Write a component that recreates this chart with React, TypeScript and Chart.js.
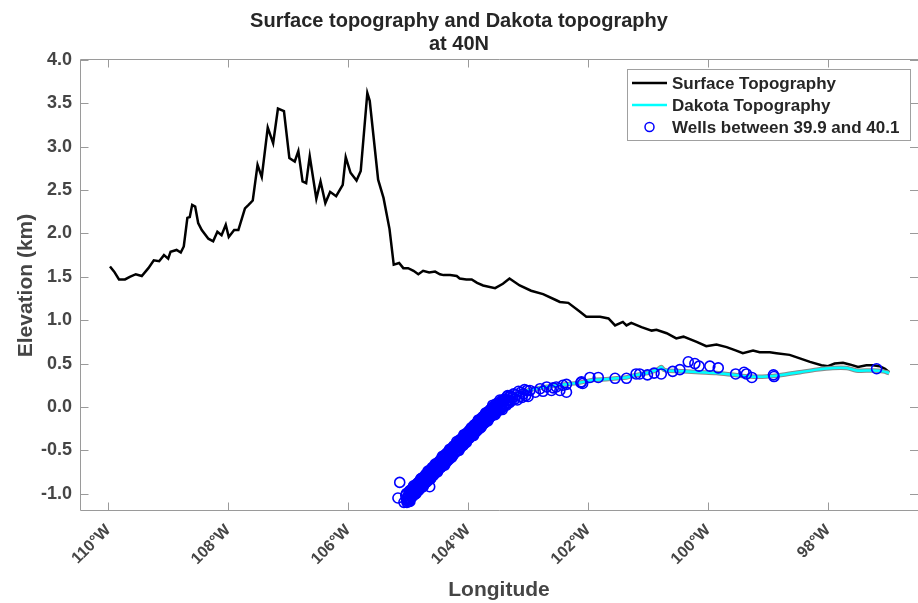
import React, { useEffect, useRef } from 'react';
import { Chart, registerables } from 'chart.js';

Chart.register(...registerables);

const FONT = "'Liberation Sans', Arial, Helvetica, sans-serif";

const chartTitle = ['Surface topography and Dakota topography', 'at 40N'];
const xAxisTitle = 'Longitude';
const yAxisTitle = 'Elevation (km)';

const xTickValues = [-110, -108, -106, -104, -102, -100, -98];
const yTickValues = [-1.0, -0.5, 0.0, 0.5, 1.0, 1.5, 2.0, 2.5, 3.0, 3.5, 4.0];
const xMin = -110.47;
const xMax = -96.5;
const yMin = -1.2;
const yMax = 4.0;

const surfaceLabel = 'Surface Topography';
const surfaceLon = [
  -109.97, -109.9, -109.82, -109.72, -109.64, -109.54, -109.44, -109.33, -109.24, -109.15,
  -109.07, -109.0, -108.96, -108.86, -108.79, -108.74, -108.68, -108.64, -108.6, -108.55,
  -108.5, -108.44, -108.33, -108.25, -108.18, -108.11, -108.04, -107.99, -107.9, -107.83,
  -107.72, -107.66, -107.59, -107.51, -107.44, -107.34, -107.25, -107.17, -107.07, -106.98,
  -106.89, -106.83, -106.76, -106.7, -106.64, -106.53, -106.46, -106.38, -106.3, -106.2,
  -106.09, -106.04, -105.96, -105.86, -105.79, -105.68, -105.64, -105.5, -105.41, -105.31,
  -105.24, -105.15, -105.08, -105.0, -104.91, -104.83, -104.75, -104.65, -104.55, -104.47,
  -104.41, -104.3, -104.19, -104.14, -104.03, -103.94, -103.85, -103.75, -103.55, -103.42,
  -103.31, -103.14, -102.95, -102.75, -102.53, -102.47, -102.33, -102.14, -102.03, -101.8,
  -101.66, -101.55, -101.42, -101.36, -101.28, -101.11, -100.94, -100.86, -100.69, -100.53,
  -100.41, -100.19, -100.03, -99.86, -99.69, -99.53, -99.42, -99.25, -99.14, -98.97,
  -98.86, -98.64, -98.47, -98.3, -98.11, -98.0, -97.89, -97.75, -97.64, -97.5,
  -97.36, -97.25, -97.14, -97.05, -96.98,
];
const surfaceElev = [
  1.62, 1.56, 1.47, 1.47, 1.5, 1.53, 1.51, 1.6, 1.69, 1.68,
  1.75, 1.71, 1.79, 1.81, 1.78, 1.85, 2.18, 2.19, 2.33, 2.31,
  2.12, 2.04, 1.94, 1.91, 2.02, 1.98, 2.1, 1.96, 2.04, 2.04,
  2.29, 2.33, 2.38, 2.79, 2.65, 3.22, 3.04, 3.44, 3.41, 2.87,
  2.83, 2.95, 2.6, 2.58, 2.89, 2.4, 2.6, 2.35, 2.48, 2.43,
  2.56, 2.88, 2.7, 2.61, 2.72, 3.62, 3.53, 2.62, 2.41, 2.05,
  1.64, 1.66, 1.6, 1.6, 1.57, 1.53, 1.57, 1.55, 1.56, 1.53,
  1.52, 1.52, 1.51, 1.48, 1.47, 1.47, 1.43, 1.4, 1.37, 1.42,
  1.48, 1.4, 1.34, 1.3, 1.23, 1.21, 1.2, 1.1, 1.04, 1.04,
  1.02, 0.94, 0.98, 0.94, 0.97, 0.92, 0.88, 0.89, 0.85, 0.79,
  0.81, 0.75, 0.7, 0.72, 0.69, 0.65, 0.62, 0.65, 0.63, 0.63,
  0.62, 0.6, 0.56, 0.52, 0.48, 0.47, 0.5, 0.51, 0.49, 0.46,
  0.48, 0.48, 0.47, 0.44, 0.4,
];

const dakotaLabel = 'Dakota Topography';
const dakotaLon = [
  -105.05, -104.8, -104.5, -104.2, -103.9, -103.6, -103.4, -103.2, -103.0, -102.8,
  -102.5, -102.14, -101.92, -101.7, -101.52, -101.36, -101.25, -101.1, -100.97, -100.85,
  -100.78, -100.74, -100.69, -100.41, -100.14, -99.86, -99.58, -99.3, -99.03, -98.75,
  -98.47, -98.19, -97.92, -97.69, -97.53, -97.25, -97.08, -96.98,
];
const dakotaElev = [
  -1.05, -0.88, -0.68, -0.47, -0.26, -0.05, 0.07, 0.14, 0.19, 0.22,
  0.25, 0.28, 0.31, 0.32, 0.33, 0.34, 0.36, 0.38, 0.4, 0.43,
  0.46, 0.43, 0.42, 0.41, 0.4, 0.39, 0.37, 0.35, 0.35, 0.37,
  0.4, 0.43, 0.45, 0.45, 0.42, 0.42, 0.41, 0.39,
];

const wellsLabel = 'Wells between 39.9 and 40.1';
const wellPoints: [number, number][] = [
  [-105.17, -1.05], [-105.14, -0.87], [-105.07, -1.1], [-105.02, -1.1], [-104.97, -1.09], [-104.64, -0.92],
  [-105.04, -1.02], [-105.02, -1.08], [-105.0, -1.02], [-104.98, -1.07], [-104.96, -0.96], [-104.94, -1.01],
  [-104.92, -0.95], [-104.9, -1.0], [-104.88, -0.95], [-104.86, -0.9], [-104.84, -0.95], [-104.82, -0.89],
  [-104.8, -0.94], [-104.78, -0.83], [-104.76, -0.89], [-104.74, -0.82], [-104.72, -0.88], [-104.7, -0.82],
  [-104.68, -0.77], [-104.66, -0.83], [-104.64, -0.76], [-104.62, -0.82], [-104.6, -0.7], [-104.58, -0.76],
  [-104.56, -0.7], [-104.54, -0.75], [-104.52, -0.7], [-104.5, -0.64], [-104.48, -0.7], [-104.46, -0.63],
  [-104.44, -0.69], [-104.42, -0.58], [-104.4, -0.63], [-104.38, -0.57], [-104.36, -0.62], [-104.34, -0.57],
  [-104.32, -0.52], [-104.3, -0.57], [-104.28, -0.51], [-104.26, -0.56], [-104.24, -0.45], [-104.22, -0.51],
  [-104.2, -0.44], [-104.18, -0.5], [-104.16, -0.44], [-104.14, -0.39], [-104.12, -0.44], [-104.1, -0.38],
  [-104.08, -0.44], [-104.06, -0.32], [-104.04, -0.38], [-104.02, -0.31], [-104.0, -0.37], [-103.98, -0.32],
  [-103.96, -0.26], [-103.94, -0.32], [-103.92, -0.25], [-103.9, -0.31], [-103.88, -0.2], [-103.86, -0.25],
  [-103.84, -0.19], [-103.82, -0.24], [-103.8, -0.19], [-103.78, -0.14], [-103.76, -0.19], [-103.74, -0.13],
  [-103.72, -0.18], [-103.7, -0.07], [-103.68, -0.12], [-103.66, -0.06], [-103.64, -0.12], [-103.62, -0.06],
  [-103.6, -0.01], [-103.58, -0.07], [-103.56, -0.01], [-103.54, -0.07], [-103.52, 0.04], [-103.5, -0.02],
  [-103.48, 0.04], [-103.46, -0.02], [-103.44, 0.03], [-103.42, 0.08], [-103.4, 0.02], [-103.38, 0.08],
  [-103.36, 0.02], [-103.34, 0.13], [-103.32, 0.07], [-103.3, 0.13], [-103.28, 0.07], [-103.26, 0.11],
  [-103.24, 0.15], [-103.22, 0.09], [-103.2, 0.14], [-103.18, 0.08], [-103.16, 0.18], [-103.14, 0.12],
  [-103.12, 0.17], [-103.1, 0.11], [-103.08, 0.15], [-103.06, 0.2], [-103.04, 0.13], [-103.02, 0.19],
  [-103.0, 0.12],
  [-105.03, -1.06], [-104.99, -1.04], [-104.95, -0.99], [-104.91, -0.98], [-104.87, -0.93], [-104.83, -0.92],
  [-104.79, -0.88], [-104.75, -0.87], [-104.71, -0.82], [-104.67, -0.81], [-104.63, -0.77], [-104.59, -0.75],
  [-104.55, -0.71], [-104.51, -0.7], [-104.47, -0.65], [-104.43, -0.64], [-104.39, -0.6], [-104.35, -0.58],
  [-104.31, -0.54], [-104.27, -0.53], [-104.23, -0.49], [-104.19, -0.47], [-104.15, -0.43], [-104.11, -0.42],
  [-104.07, -0.37], [-104.03, -0.36], [-103.99, -0.32], [-103.95, -0.3], [-103.91, -0.26], [-103.87, -0.25],
  [-103.83, -0.2], [-103.79, -0.19], [-103.75, -0.15], [-103.71, -0.13], [-103.67, -0.09], [-103.63, -0.08],
  [-103.59, -0.04], [-103.55, -0.03], [-103.51, 0.0], [-103.47, 0.01], [-103.43, 0.04],
  [-105.03, -1.0], [-105.01, -1.05], [-104.99, -1.09], [-104.97, -0.99], [-104.95, -0.97], [-104.93, -1.03],
  [-104.91, -0.91], [-104.89, -0.97], [-104.87, -1.0], [-104.85, -0.91], [-104.83, -0.88], [-104.81, -0.94],
  [-104.79, -0.83], [-104.77, -0.88], [-104.75, -0.92], [-104.73, -0.83], [-104.71, -0.8], [-104.69, -0.86],
  [-104.67, -0.74], [-104.65, -0.8], [-104.63, -0.83], [-104.61, -0.74], [-104.59, -0.71], [-104.57, -0.77],
  [-104.55, -0.66], [-104.53, -0.71], [-104.51, -0.75], [-104.49, -0.66], [-104.47, -0.63], [-104.45, -0.69],
  [-104.43, -0.57], [-104.41, -0.63], [-104.39, -0.67], [-104.37, -0.57], [-104.35, -0.54], [-104.33, -0.6],
  [-104.31, -0.49], [-104.29, -0.55], [-104.27, -0.58], [-104.25, -0.49], [-104.23, -0.46], [-104.21, -0.52],
  [-104.19, -0.4], [-104.17, -0.46], [-104.15, -0.5], [-104.13, -0.4], [-104.11, -0.37], [-104.09, -0.43],
  [-104.07, -0.32], [-104.05, -0.38], [-104.03, -0.41], [-104.01, -0.32], [-103.99, -0.29], [-103.97, -0.35],
  [-103.95, -0.24], [-103.93, -0.29], [-103.91, -0.33], [-103.89, -0.23], [-103.87, -0.2], [-103.85, -0.27],
  [-103.83, -0.15], [-103.81, -0.21], [-103.79, -0.24], [-103.77, -0.15], [-103.75, -0.12], [-103.73, -0.18],
  [-103.71, -0.07], [-103.69, -0.12], [-103.67, -0.16], [-103.65, -0.06], [-103.63, -0.04], [-103.61, -0.1],
  [-103.59, 0.02], [-103.57, -0.05], [-103.55, -0.09], [-103.53, 0.01], [-103.51, 0.03], [-103.49, -0.04],
  [-103.47, 0.08], [-103.45, 0.02], [-103.43, -0.03], [-103.41, 0.07], [-103.39, 0.09], [-103.37, 0.03],
  [-103.35, 0.12], [-103.33, 0.08], [-103.31, 0.05], [-103.29, 0.12],
  [-104.98, -0.97], [-104.95, -0.96], [-104.92, -0.93], [-104.89, -0.92], [-104.86, -0.89], [-104.83, -0.87],
  [-104.8, -0.85], [-104.77, -0.82], [-104.74, -0.81], [-104.71, -0.78], [-104.68, -0.77], [-104.65, -0.74],
  [-104.62, -0.72], [-104.59, -0.7], [-104.56, -0.68], [-104.53, -0.66], [-104.5, -0.64], [-104.47, -0.62],
  [-104.44, -0.59], [-104.41, -0.58], [-104.38, -0.55], [-104.35, -0.53], [-104.32, -0.51], [-104.29, -0.49],
  [-104.26, -0.47], [-104.23, -0.45], [-104.2, -0.43], [-104.17, -0.41], [-104.14, -0.38], [-104.11, -0.37],
  [-104.08, -0.34], [-104.05, -0.32], [-104.02, -0.3], [-103.99, -0.28], [-103.96, -0.26], [-103.93, -0.24],
  [-103.9, -0.21], [-103.87, -0.2], [-103.84, -0.17], [-103.81, -0.15], [-103.78, -0.13], [-103.75, -0.11],
  [-103.72, -0.09], [-103.69, -0.07], [-103.66, -0.05], [-103.63, -0.03], [-103.6, -0.01], [-103.57, 0.01],
  [-103.54, 0.03], [-103.51, 0.04], [-103.48, 0.05], [-103.45, 0.07], [-103.42, 0.08],
  [-104.97, -1.06], [-104.94, -1.04], [-104.91, -1.02], [-104.88, -1.0], [-104.85, -0.97], [-104.82, -0.96],
  [-104.79, -0.93], [-104.76, -0.91], [-104.73, -0.89], [-104.7, -0.87], [-104.67, -0.85], [-104.64, -0.83],
  [-104.61, -0.81], [-104.58, -0.79], [-104.55, -0.76], [-104.52, -0.74], [-104.49, -0.72], [-104.46, -0.7],
  [-104.43, -0.68], [-104.4, -0.66], [-104.37, -0.64], [-104.34, -0.62], [-104.31, -0.6], [-104.28, -0.57],
  [-104.25, -0.55], [-104.22, -0.53], [-104.19, -0.51], [-104.16, -0.49], [-104.13, -0.47], [-104.1, -0.45],
  [-104.07, -0.43], [-104.04, -0.4], [-104.01, -0.38], [-103.98, -0.36], [-103.95, -0.34], [-103.92, -0.32],
  [-103.89, -0.3], [-103.86, -0.28], [-103.83, -0.26], [-103.8, -0.24], [-103.77, -0.22], [-103.74, -0.19],
  [-103.71, -0.17], [-103.68, -0.15], [-103.65, -0.13], [-103.62, -0.11], [-103.59, -0.09], [-103.56, -0.08],
  [-103.53, -0.06], [-103.5, -0.04], [-103.47, -0.03], [-103.44, -0.01],
  [-102.97, 0.19], [-102.88, 0.17], [-102.8, 0.21], [-102.75, 0.18], [-102.69, 0.23], [-102.61, 0.19],
  [-102.58, 0.22], [-102.53, 0.23], [-102.47, 0.19], [-102.42, 0.25], [-102.36, 0.26], [-102.36, 0.17],
  [-102.12, 0.28], [-102.11, 0.29], [-102.09, 0.27], [-101.97, 0.34], [-101.83, 0.34],
  [-101.55, 0.33], [-101.36, 0.33], [-101.2, 0.38], [-101.14, 0.38], [-101.01, 0.37], [-100.9, 0.39],
  [-100.78, 0.38], [-100.59, 0.41], [-100.47, 0.43], [-100.33, 0.52], [-100.22, 0.5], [-100.15, 0.47],
  [-99.97, 0.47], [-99.83, 0.45], [-99.54, 0.38], [-99.4, 0.4], [-99.36, 0.38], [-99.27, 0.34],
  [-98.91, 0.37], [-98.9, 0.35], [-97.19, 0.44],
];

const framePlugin = {
  id: 'matlabFrame',
  afterDatasetsDraw(chart: any) {
    const { ctx, chartArea: a, scales } = chart;
    const x = scales.x;
    const y = scales.y;
    const tick = 8;
    ctx.save();
    ctx.strokeStyle = '#9a9a9a';
    ctx.lineWidth = 1;
    ctx.beginPath();
    const L = Math.floor(a.left) + 0.5;
    const T = Math.floor(a.top) - 0.5;
    const B = Math.floor(a.bottom) - 0.5;
    const R = a.right;
    ctx.moveTo(R, T);
    ctx.lineTo(L, T);
    ctx.lineTo(L, B);
    ctx.lineTo(R, B);
    for (const v of xTickValues) {
      const px = Math.round(x.getPixelForValue(v)) + 0.5;
      ctx.moveTo(px, B);
      ctx.lineTo(px, B - tick);
      ctx.moveTo(px, T);
      ctx.lineTo(px, T + tick);
    }
    for (const v of yTickValues) {
      const py = Math.round(y.getPixelForValue(v)) + 0.5;
      ctx.moveTo(L, py);
      ctx.lineTo(L + tick, py);
      ctx.moveTo(R, py);
      ctx.lineTo(R - tick, py);
    }
    ctx.stroke();
    ctx.restore();
  },
};

const legendPlugin = {
  id: 'matlabLegend',
  afterDraw(chart: any) {
    const { ctx } = chart;
    const bx = 627.5;
    const by = 69.5;
    const bw = 283;
    const bh = 71;
    ctx.save();
    ctx.fillStyle = '#ffffff';
    ctx.fillRect(bx, by, bw, bh);
    ctx.strokeStyle = '#a0a0a0';
    ctx.lineWidth = 1;
    ctx.strokeRect(bx, by, bw, bh);
    const rows = [
      { label: surfaceLabel, kind: 'line', color: '#000000' },
      { label: dakotaLabel, kind: 'line', color: '#00ffff' },
      { label: wellsLabel, kind: 'marker', color: '#0000ff' },
    ];
    const rowY = [83, 105, 127];
    ctx.font = `bold 17px ${FONT}`;
    ctx.textBaseline = 'middle';
    ctx.textAlign = 'left';
    rows.forEach((r, i) => {
      const yy = rowY[i];
      if (r.kind === 'line') {
        ctx.strokeStyle = r.color;
        ctx.lineWidth = 2.5;
        ctx.beginPath();
        ctx.moveTo(632, yy);
        ctx.lineTo(667, yy);
        ctx.stroke();
      } else {
        ctx.strokeStyle = r.color;
        ctx.lineWidth = 1.5;
        ctx.beginPath();
        ctx.arc(649.5, yy, 4.5, 0, Math.PI * 2);
        ctx.stroke();
      }
      ctx.fillStyle = '#262626';
      ctx.fillText(r.label, 672, yy + 1);
    });
    ctx.restore();
  },
};

export default function App() {
  const canvasRef = useRef<HTMLCanvasElement | null>(null);

  useEffect(() => {
    if (!canvasRef.current) return;
    const surfaceData = surfaceLon.map((lon, i) => ({ x: lon, y: surfaceElev[i] }));
    const dakotaData = dakotaLon.map((lon, i) => ({ x: lon, y: dakotaElev[i] }));
    const wellData = wellPoints.map(([lon, el]) => ({ x: lon, y: el }));

    const tickColor = '#454545';
    const chart = new Chart(canvasRef.current, {
      type: 'scatter',
      data: {
        datasets: [
          {
            label: wellsLabel,
            data: wellData,
            showLine: false,
            pointRadius: 5,
            pointStyle: 'circle',
            pointBorderColor: '#0000ff',
            pointBackgroundColor: 'rgba(0,0,0,0)',
            pointBorderWidth: 1.6,
          },
          {
            label: dakotaLabel,
            data: dakotaData,
            showLine: true,
            borderColor: '#00ffff',
            borderWidth: 2.5,
            pointRadius: 0,
            tension: 0.3,
          },
          {
            label: dakotaLabel + ' edge',
            data: dakotaData,
            showLine: true,
            borderColor: '#8a8a8a',
            borderWidth: 4.5,
            pointRadius: 0,
            tension: 0.3,
          },
          {
            label: surfaceLabel,
            data: surfaceData,
            showLine: true,
            borderColor: '#000000',
            borderWidth: 2.5,
            pointRadius: 0,
            tension: 0,
          },
        ],
      },
      options: {
        responsive: false,
        animation: false,
        devicePixelRatio: 1,
        events: [],
        layout: { autoPadding: false, padding: { left: 0, right: 0, top: 0, bottom: 0 } },
        plugins: {
          legend: { display: false },
          tooltip: { enabled: false },
          title: {
            display: true,
            text: chartTitle,
            color: '#262626',
            font: { family: FONT, size: 20, weight: 'bold', lineHeight: 1.15 },
            padding: { top: 10, bottom: 4 },
          },
        },
        scales: {
          x: {
            type: 'linear',
            min: xMin,
            max: xMax,
            afterBuildTicks: (s: any) => {
              s.ticks = xTickValues.map((v) => ({ value: v }));
            },
            afterFit: (s: any) => {
              s.height = 92;
              s.paddingLeft = 0;
              s.paddingRight = 0;
            },
            grid: { display: false, drawTicks: false },
            border: { display: false },
            ticks: {
              minRotation: 45,
              maxRotation: 45,
              autoSkip: false,
              padding: 10,
              color: tickColor,
              font: { family: FONT, size: 16, weight: 'bold' },
              callback: (v: any) => `${Math.abs(Number(v))}°W`,
            },
            title: {
              display: true,
              text: xAxisTitle,
              color: tickColor,
              font: { family: FONT, size: 21, weight: 'bold' },
              padding: { top: 0, bottom: 0 },
            },
          },
          y: {
            type: 'linear',
            min: yMin,
            max: yMax,
            afterBuildTicks: (s: any) => {
              s.ticks = yTickValues.map((v) => ({ value: v }));
            },
            afterFit: (s: any) => {
              s.width = 80;
            },
            grid: { display: false, drawTicks: false },
            border: { display: false },
            ticks: {
              padding: 8,
              color: tickColor,
              font: { family: FONT, size: 18, weight: 'bold' },
              callback: (v: any) => Number(v).toFixed(1),
            },
            title: {
              display: true,
              text: yAxisTitle,
              color: tickColor,
              font: { family: FONT, size: 21, weight: 'bold' },
              padding: { top: 14, bottom: 0 },
            },
          },
        },
      },
      plugins: [framePlugin, legendPlugin],
    } as any);
    return () => chart.destroy();
  }, []);

  return (
    <div style={{ position: 'fixed', left: 0, top: 0, width: 918, height: 603, background: '#fff' }}>
      <canvas ref={canvasRef} width={918} height={603} style={{ display: 'block' }} />
    </div>
  );
}
